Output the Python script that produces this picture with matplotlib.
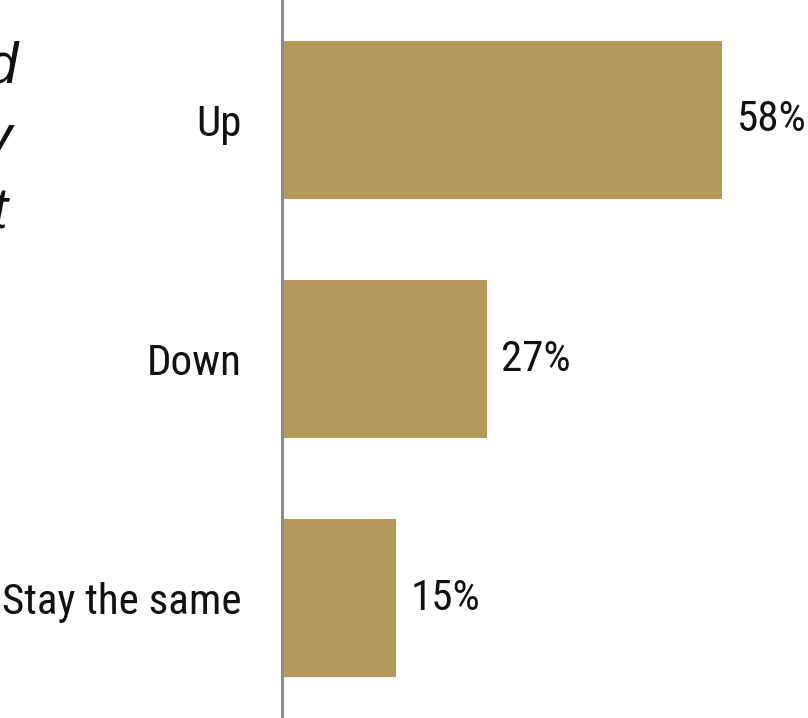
import matplotlib
matplotlib.use("Agg")
import matplotlib.pyplot as plt
from matplotlib import font_manager
from matplotlib.font_manager import FontProperties

categories = ["Up", "Down", "Stay the same"]
values = [58, 27, 15]
value_labels = ["58%", "27%", "15%"]
title_lines = ["Where do you expect it to trend", "over the next quarter, they say", "the panel will predict"]


def pick_condensed():
    prefs = ["Roboto Condensed", "Liberation Sans Narrow", "Open Sans Condensed",
             "Noto Sans Condensed", "DejaVu Sans Condensed"]
    fl = font_manager.fontManager.ttflist
    for p in prefs:
        for f in fl:
            if f.name == p and f.style == "normal" and f.weight in (400, "normal", "regular"):
                return FontProperties(fname=f.fname)
    for f in fl:
        if ("Condensed" in f.fname or "Narrow" in f.fname) and "Bold" not in f.fname \
                and "Italic" not in f.fname and "Oblique" not in f.fname:
            return FontProperties(fname=f.fname)
    return FontProperties(family="DejaVu Sans", stretch="condensed")


base_fp = pick_condensed()


def fp(size):
    p = base_fp.copy()
    p.set_size(size)
    return p


W, H = 808, 718
fig = plt.figure(figsize=(W / 100, H / 100), dpi=100)
ax = fig.add_axes([282 / W, 0, 1 - 282 / W, 1])

bar_color = "#b5985a"
y = list(range(len(categories)))
ax.barh(y, values, height=0.66, color=bar_color)
ax.set_ylim(2.5, -0.5)
ax.set_xlim(0, 69.3)

for yi, v, lab in zip(y, values, value_labels):
    ax.text(v + 1.9, yi, lab, va="center", ha="left", fontproperties=fp(31),
            color="#111111")

ax.set_yticks(y)
ax.set_yticklabels(categories, fontproperties=fp(31), color="#111111")
ax.tick_params(axis="y", length=0, pad=29)
ax.set_xticks([])
for s in ["top", "right", "bottom"]:
    ax.spines[s].set_visible(False)
ax.spines["left"].set_color("#8c8c8c")
ax.spines["left"].set_linewidth(2.2)

# clipped italic title fragments at the left edge (cut off in the reference too)
xs = [18, 12, 8]
baselines = [83, 155, 228]
for line, xr, yb in zip(title_lines, xs, baselines):
    fig.text(xr / W, 1 - yb / H, line, ha="right", va="baseline", fontsize=41,
             style="italic", family="Liberation Sans", color="#111111")

fig.savefig("out.png", dpi=100)
